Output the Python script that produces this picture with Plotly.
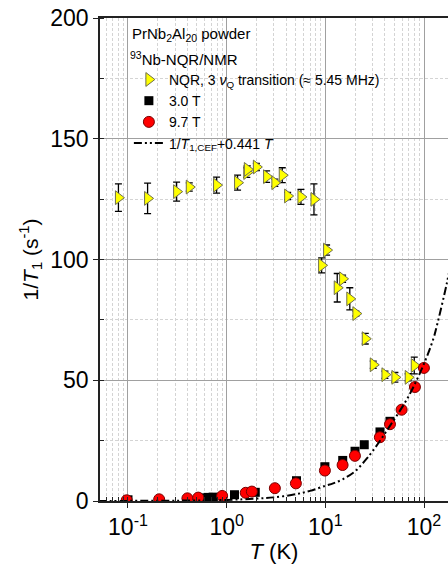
import plotly.graph_objects as go

# NQR (3 nu_Q transition)
nqr_T = [0.080, 0.158, 0.311, 0.418, 0.79, 1.29, 1.60, 1.62, 2.0, 2.54, 3.08, 3.66, 4.15,
         5.66, 7.67, 9.17, 10.3, 13.2, 14.96, 17.7, 20.4, 25.4, 30.6, 40.2, 50.7, 69.2, 79.7]
nqr_R = [125.6, 125.3, 128.1, 130.0, 130.8, 131.8, 136.0, 137.3, 138.3, 134.3, 131.8, 134.9, 126.3,
         125.9, 124.9, 97.6, 103.9, 88.3, 92.0, 83.7, 77.6, 67.2, 56.4, 52.3, 51.2, 51.2, 56.1]
nqr_err = [5.7, 6.3, 3.9, 1.7, 3.3, 3.1, 2.0, 1.5, 1.5, 2.4, 1.5, 3.1, 1.5,
           3.1, 6.4, 3.1, 2.1, 5.9, 1.5, 4.6, 1.0, 2.2, 1.5, 1.5, 2.0, 1.5, 3.5]

# NMR 3.0 T
sq_T = [0.10, 0.55, 0.65, 0.73, 1.2, 1.95, 5.1, 9.9, 15.0, 20.0, 24.8, 35.8, 45.2]
sq_R = [0.5, 1.3, 1.5, 1.6, 2.6, 3.6, 8.4, 14.2, 16.8, 20.6, 23.3, 28.6, 33.0]

# NMR 9.7 T
ci_T = [0.097, 0.207, 0.40, 0.515, 0.90, 1.56, 1.80, 3.08, 5.03, 9.9, 14.96, 19.95,
        35.7, 45.2, 59.3, 80.9, 99.8]
ci_R = [0.3, 0.7, 1.1, 1.4, 2.1, 3.4, 3.9, 5.3, 7.3, 12.6, 14.9, 18.7,
        26.4, 31.8, 37.8, 47.2, 55.1]

# 1/T1,CEF + 0.441 T curve
cef_T = [0.05, 0.1, 0.3, 1, 2, 3, 5, 7, 10, 12, 15, 20, 25, 30, 45, 69, 98, 124, 134, 170, 190]
cef_R = [0.02, 0.05, 0.13, 0.45, 1.0, 1.5, 2.8, 4.2, 6.3, 7.3, 9.0, 12.3, 16.5, 20.5, 31, 43, 56,
         67, 72, 90, 100]

# axis tick labels
x_tickvals = [0.1, 1, 10, 100]
x_ticktext = ["10<sup>-1</sup>", "10<sup>0</sup>", "10<sup>1</sup>", "10<sup>2</sup>"]

FONT = "Arial, Liberation Sans, sans-serif"

fig = go.Figure()
fig.add_trace(go.Scatter(
    x=nqr_T, y=nqr_R, mode="markers",
    name="NQR, 3 <i>ν</i><sub>Q</sub> transition (≈ 5.45 MHz)",
    marker=dict(symbol="triangle-right", size=12, color="#ffff00",
                line=dict(color="#6e6e50", width=1)),
    error_y=dict(type="data", array=nqr_err, color="black", thickness=1.3, width=3.5),
))
fig.add_trace(go.Scatter(
    x=sq_T, y=sq_R, mode="markers", name="3.0 T",
    marker=dict(symbol="square", size=9, color="black"),
))
fig.add_trace(go.Scatter(
    x=ci_T, y=ci_R, mode="markers", name="9.7 T",
    marker=dict(symbol="circle", size=11, color="#ff0000",
                line=dict(color="#7a0000", width=1)),
))
fig.add_trace(go.Scatter(
    x=cef_T, y=cef_R, mode="lines",
    name="1/<i>T</i><sub>1,CEF</sub>+0.441 <i>T</i>",
    line=dict(color="black", width=2, dash="8px,3px,2px,3px,2px,3px", shape="spline"),
))

axis_common = dict(
    showgrid=True, gridcolor="#a0a0a0", gridwidth=1,
    showline=True, linecolor="#222222", linewidth=1.5,
    ticks="outside", ticklen=5, tickcolor="#222222",
    tickfont=dict(family=FONT, size=23, color="black"),
    zeroline=False,
)
minor_common = dict(showgrid=True, gridcolor="#d4d4d4", griddash="3px,2px", gridwidth=1,
                    ticks="inside", ticklen=4, tickcolor="#222222")

fig.update_layout(
    width=448, height=575,
    margin=dict(l=100, r=0, t=18, b=74),
    paper_bgcolor="white", plot_bgcolor="white",
    font=dict(family=FONT, color="black"),
    showlegend=True,
    legend=dict(x=0.083, y=0.905, xanchor="left", yanchor="top",
                bgcolor="rgba(0,0,0,0)", borderwidth=0,
                font=dict(family=FONT, size=14, color="black")),
    xaxis=dict(
        type="log", range=[-1.2837, 2.2432], tickvals=x_tickvals, ticktext=x_ticktext,
        mirror=True,
        title=dict(text="<i>T</i> (K)", font=dict(family=FONT, size=22), standoff=4),
        minor=dict(dtick="D1", **minor_common),
        **axis_common,
    ),
    yaxis=dict(
        range=[0, 200], dtick=50,
        title=dict(text="1/<i>T</i><sub>1</sub> (s<sup>-1</sup>)", font=dict(family=FONT, size=21),
                   standoff=6),
        minor=dict(dtick=25, **minor_common),
        **axis_common,
    ),
    annotations=[
        dict(text="PrNb<sub>2</sub>Al<sub>20</sub> powder", xref="paper", yref="paper",
             x=0.086, y=0.965, xanchor="left", yanchor="middle", showarrow=False,
             font=dict(family=FONT, size=15, color="black")),
        dict(text="<sup>93</sup>Nb-NQR/NMR", xref="paper", yref="paper",
             x=0.08, y=0.917, xanchor="left", yanchor="middle", showarrow=False,
             font=dict(family=FONT, size=15, color="black")),
    ],
)

fig.write_html("out.html", config={"displayModeBar": False},
               post_script="document.body.style.margin='0';document.body.style.overflow='hidden';")
